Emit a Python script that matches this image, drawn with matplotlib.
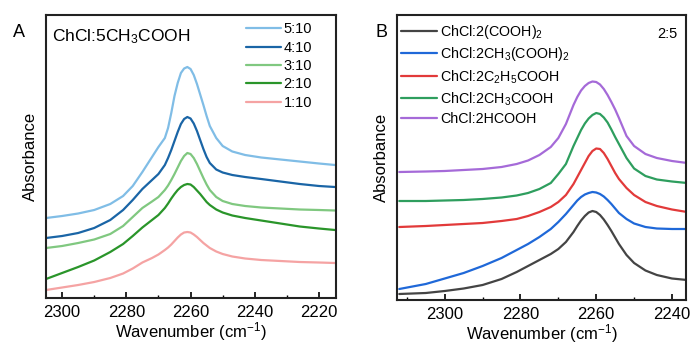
import matplotlib
matplotlib.use("Agg")
import matplotlib.pyplot as plt
from matplotlib.ticker import MultipleLocator

plt.rcParams['font.family'] = ['Liberation Sans', 'DejaVu Sans']
plt.rcParams['mathtext.fontset'] = 'custom'
plt.rcParams['mathtext.rm'] = 'Liberation Sans'
plt.rcParams['mathtext.it'] = 'Liberation Sans'
plt.rcParams['mathtext.default'] = 'regular'

# ---- Panel A: ChCl:5CH3COOH at different ratios ----
wn_a = [2305, 2300, 2295, 2290, 2285, 2281, 2278, 2275, 2272, 2270, 2268, 2267,
        2266, 2265, 2264, 2263, 2262, 2261, 2260, 2259, 2258, 2257, 2256, 2255,
        2254, 2252, 2250, 2247, 2243, 2238, 2232, 2226, 2220, 2215]
a_5_10 = [80, 82, 84.5, 88, 94, 102, 112, 126, 141, 151, 160, 170,
          185, 202, 215, 225, 229.5, 231, 229, 223, 214, 203.5, 193, 182,
          172, 160, 152, 146.5, 143, 140.5, 138.5, 136.5, 134.5, 133]
a_4_10 = [60, 62, 65, 70, 78, 88, 98, 109, 118, 124, 133, 140,
          148, 157, 166, 174, 179, 181, 179.5, 174.5, 167, 158, 149, 141,
          135, 128.5, 125.5, 123, 121, 119, 116.5, 114, 112, 111]
a_3_10 = [50, 52, 55, 58.5, 64, 72, 81, 90, 96.5, 101, 108, 112.5,
          118, 124, 130.5, 137, 142, 145, 144, 140, 134, 127, 120, 113.5,
          108, 101, 97, 94, 92, 90.5, 89.5, 88.5, 88, 87.5]
a_2_10 = [19, 25, 31, 37.5, 46, 54, 62, 70.5, 78, 83, 90, 94.5,
          99.5, 104, 108, 111, 113, 114, 113.5, 111, 107.5, 104, 100, 96,
          93, 88.5, 85.5, 82.5, 80, 77.5, 74.5, 71.5, 69.5, 68]
a_1_10 = [8, 10.5, 13, 16, 20, 24.5, 29.5, 35.5, 40, 43.5, 48, 50.5,
          53.5, 57, 60.5, 63.5, 65.5, 66, 65.5, 63.5, 61, 58, 55, 52.5,
          50, 46.5, 44, 41.5, 39.5, 38, 37, 36, 35.5, 35]
labels_a = ["5:10", "4:10", "3:10", "2:10", "1:10"]
colors_a = ["#80bde6", "#1a65a6", "#80c880", "#2a952a", "#f5a3a3"]

# ---- Panel B: ChCl with different acids (2:5) ----
wn_b = [2312, 2305, 2300, 2295, 2290, 2285, 2281, 2278, 2275, 2272, 2270, 2268,
        2266, 2265, 2264, 2263, 2262, 2261, 2260, 2259, 2258, 2257, 2256, 2255,
        2254, 2252, 2250, 2247, 2244, 2240, 2236]
b_oxalic = [6, 7, 9, 11.5, 15, 21, 28, 34, 40, 46, 51, 58,
            68, 74, 79.5, 84, 87.5, 89, 88, 85, 80.5, 75, 69, 62.5,
            56, 45, 37, 29.5, 25, 21.5, 20]
b_malonic = [11, 16, 21.5, 27, 34, 42, 50, 56, 63, 71, 78, 86,
             95, 99.5, 103, 105.5, 107, 108, 107.5, 106, 103.5, 100, 96, 91.5,
             87, 81, 76.5, 73, 71.5, 71, 71]
b_propionic = [73, 74, 75, 76, 77, 79, 81, 84, 88, 93, 98, 105,
               116, 123, 130, 137, 144, 149, 151.5, 151, 147, 141, 134, 127,
               121, 112, 105, 98, 94, 90.5, 88]
b_acetic = [99, 99, 99.5, 100, 101, 102.5, 104.5, 107, 111, 117, 126, 136,
            154, 162, 170, 176.5, 181.5, 185, 187, 186, 182.5, 177.5, 170.5, 163,
            156, 142, 131.5, 124, 120.5, 118.5, 117]
b_formic = [128, 128.5, 129, 130, 131, 133, 136, 139.5, 145, 153, 162, 176,
            195, 203, 209.5, 214, 217, 218.5, 218, 215.5, 211, 205, 198, 190.5,
            182, 164, 154, 146, 142, 139, 137]
labels_b = ["ChCl:2(COOH)$_2$", "ChCl:2CH$_3$(COOH)$_2$", "ChCl:2C$_2$H$_5$COOH",
            "ChCl:2CH$_3$COOH", "ChCl:2HCOOH"]
colors_b = ["#444444", "#1f68d8", "#e23a3a", "#2e9e5e", "#a56ad8"]

fig = plt.figure(figsize=(6.92, 3.44), dpi=100)
ax_a = fig.add_axes([0.0665, 0.1337, 0.4191, 0.8227])
ax_b = fig.add_axes([0.5737, 0.1279, 0.4176, 0.8285])

for ys, lab, col in zip([a_5_10, a_4_10, a_3_10, a_2_10, a_1_10], labels_a, colors_a):
    ax_a.plot(wn_a, ys, color=col, lw=1.6, label=lab,
              solid_joinstyle='round', solid_capstyle='round')
for ys, lab, col in zip([b_oxalic, b_malonic, b_propionic, b_acetic, b_formic], labels_b, colors_b):
    ax_b.plot(wn_b, ys, color=col, lw=1.6, label=lab,
              solid_joinstyle='round', solid_capstyle='round')

ax_a.set_xlim(2305, 2214.7)
ax_a.set_ylim(0, 283)
ax_b.set_xlim(2312.6, 2236.3)
ax_b.set_ylim(0, 285)

for ax in (ax_a, ax_b):
    ax.xaxis.set_major_locator(MultipleLocator(20))
    ax.xaxis.set_minor_locator(MultipleLocator(10))
    ax.set_yticks([])
    ax.tick_params(axis='x', which='major', direction='in', length=4, width=1.2,
                   labelsize=12, pad=5)
    ax.tick_params(axis='x', which='minor', direction='in', length=2.5, width=1.0)
    for sp in ax.spines.values():
        sp.set_linewidth(1.5)
        sp.set_color('#222222')
    ax.set_xlabel("Wavenumber (cm$^{-1}$)", fontsize=12, labelpad=0)
    ax.set_ylabel("Absorbance", fontsize=12, labelpad=6)

ax_a.text(0.022, 0.925, "ChCl:5CH$_3$COOH", transform=ax_a.transAxes,
          fontsize=12.5, va='center', ha='left')
ax_a.legend(loc='upper right', frameon=False, fontsize=10.5,
            handlelength=2.4, handletextpad=0.2, labelspacing=0.3,
            borderaxespad=0.0, bbox_to_anchor=(0.937, 0.995))

ax_b.legend(loc='upper left', frameon=False, fontsize=10.3,
            handlelength=2.5, handletextpad=0.2, labelspacing=0.33,
            borderaxespad=0.0, bbox_to_anchor=(-0.005, 0.993))
ax_b.text(0.935, 0.935, "2:5", transform=ax_b.transAxes, fontsize=10.5,
          va='center', ha='center')

fig.text(0.027, 0.905, "A", fontsize=13, ha='center', va='center')
fig.text(0.551, 0.905, "B", fontsize=13, ha='center', va='center')

fig.savefig("out.png", dpi=100)
